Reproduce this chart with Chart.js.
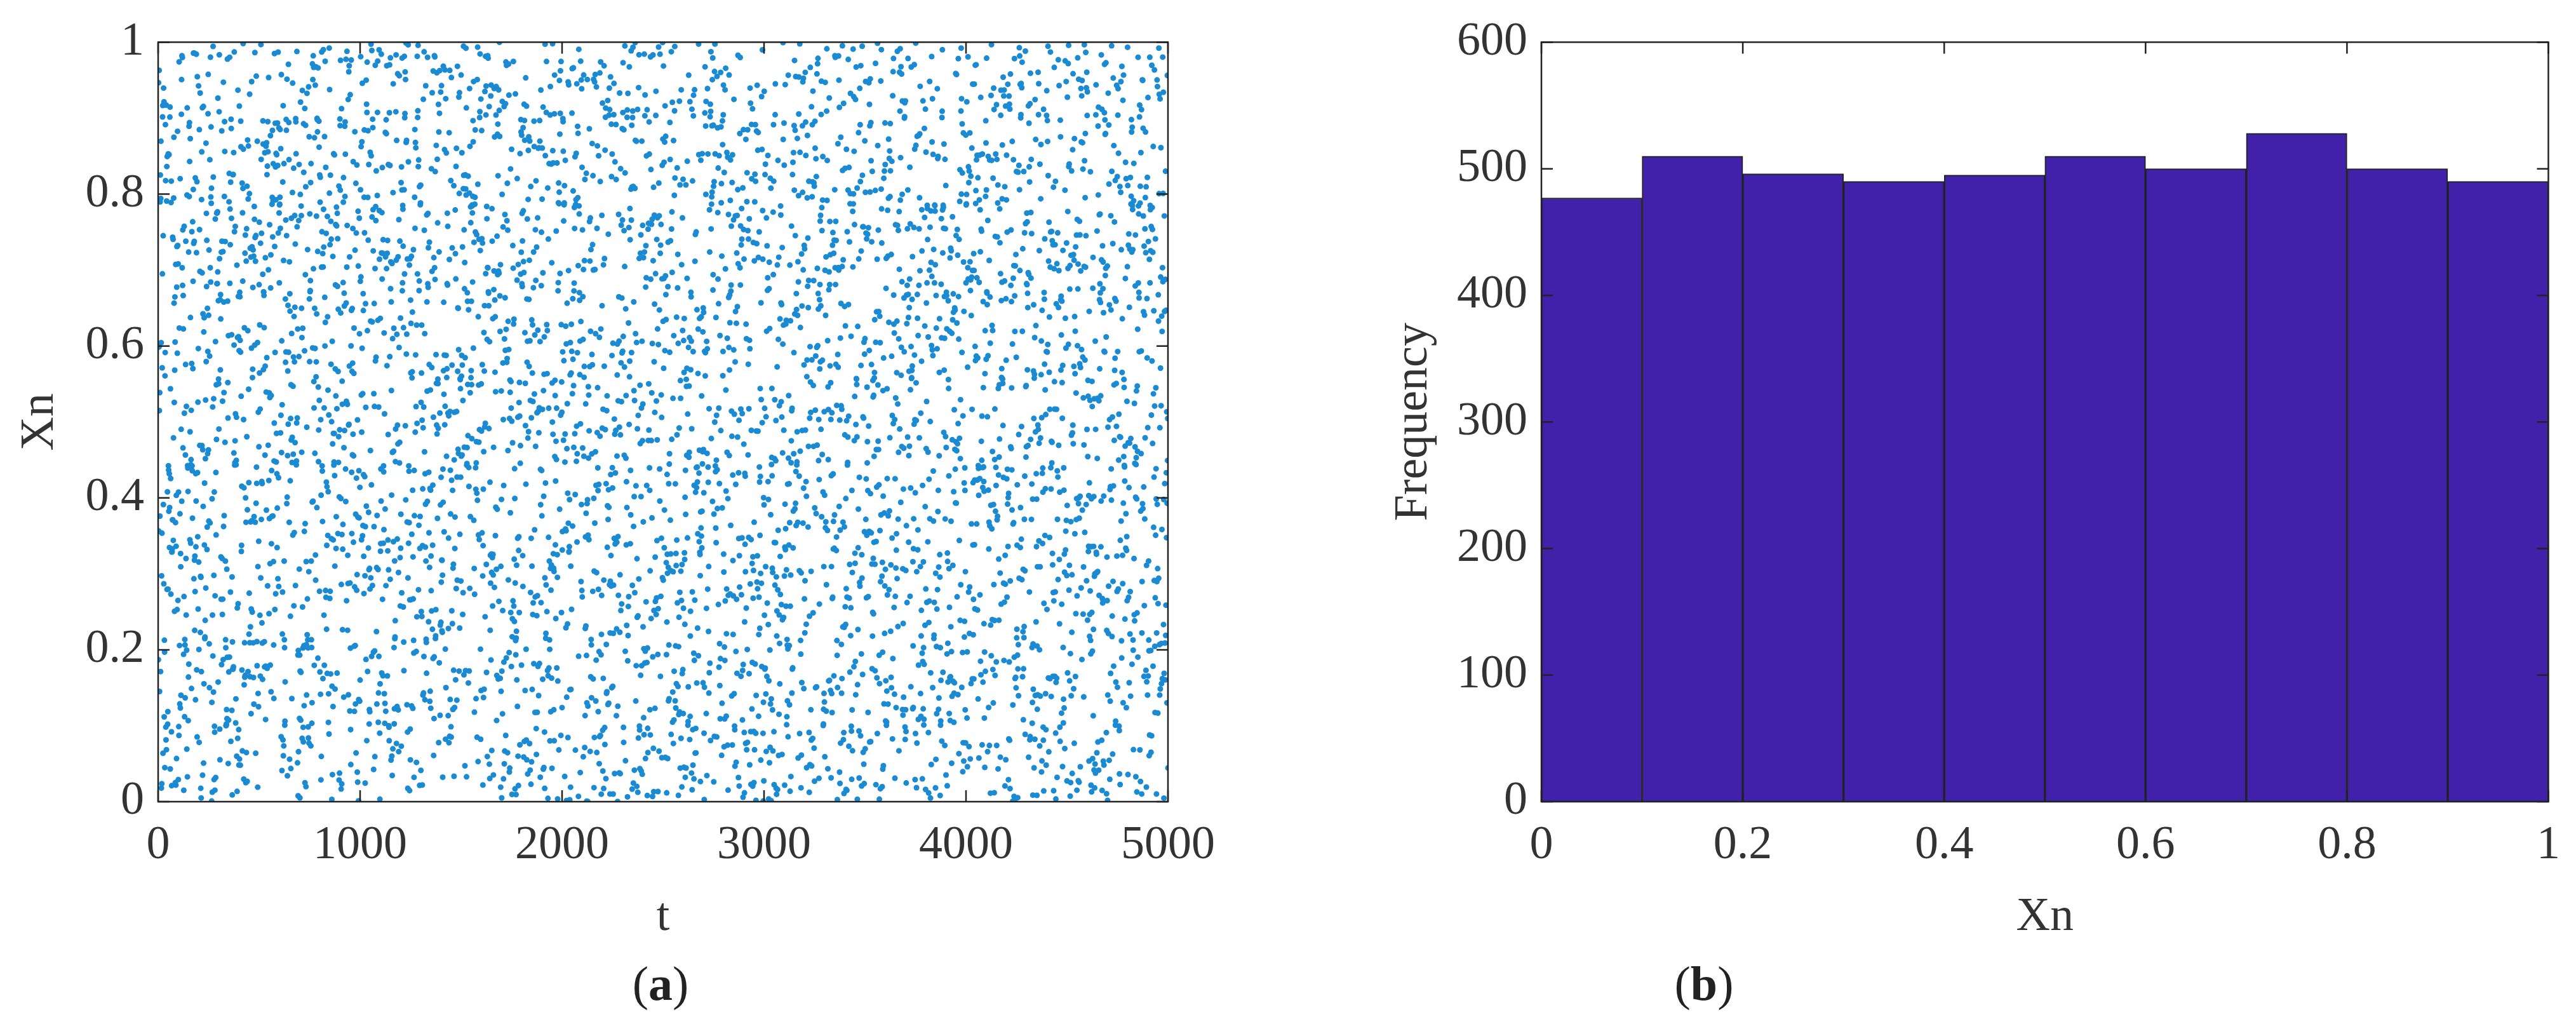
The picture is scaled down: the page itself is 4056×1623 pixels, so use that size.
<!DOCTYPE html>
<html><head><meta charset="utf-8">
<script src="https://cdn.jsdelivr.net/npm/chart.js@4/dist/chart.umd.min.js"></script>
<style>
body{margin:0;background:#fff;width:4056px;height:1623px;position:relative;overflow:hidden}
.c{position:absolute;top:0;width:2028px;height:1623px}
.lab{position:absolute;top:1505px;width:300px;text-align:center;font:76px "Liberation Serif",serif;color:#222}
</style></head><body>
<div class="c" style="left:0"><canvas id="a"></canvas></div>
<div class="c" style="left:2028px"><canvas id="b"></canvas></div>
<div class="lab" style="left:890px">(<b>a</b>)</div>
<div class="lab" style="left:2533px">(<b>b</b>)</div>
<script>
// Histogram (b): bin centres and counts
const binCenters = [0.05,0.15,0.25,0.35,0.45,0.55,0.65,0.75,0.85,0.95];
const binCounts  = [477,510,496,490,495,510,500,528,500,490];
const xTicksA = [0,1000,2000,3000,4000,5000];
const yTicksA = [0,0.2,0.4,0.6,0.8,1];
const xTicksB = [0,0.2,0.4,0.6,0.8,1];
const yTicksB = [0,100,200,300,400,500,600];
// Scatter (a): 5000 iterates of a chaotic sequence (individual points cannot be read off the picture)
const N = 5000;
const seqT = [], seqX = [];
let x0 = 0.3141;
for (let i = 1; i <= N; i++) { x0 = (x0 * 9.7531 + Math.sin(i) * 0.0001 + 0.1234) % 1; seqT.push(i); seqX.push(x0); }

const FONT = {family:'"Liberation Serif", serif', size:74};
Chart.defaults.color = '#333';
Chart.defaults.animation = false;

const boxPlugin = {
  id:'box',
  afterDraw(ch){
    const c = ch.ctx, a = ch.chartArea;
    c.save(); c.strokeStyle='#222'; c.lineWidth=2.5;
    c.strokeRect(a.left,a.top,a.right-a.left,a.bottom-a.top);
    const L=18;
    ch.scales.x.ticks.forEach(t=>{const p=ch.scales.x.getPixelForValue(t.value);
      c.beginPath();c.moveTo(p,a.bottom);c.lineTo(p,a.bottom-L);c.moveTo(p,a.top);c.lineTo(p,a.top+L);c.stroke();});
    ch.scales.y.ticks.forEach(t=>{const p=ch.scales.y.getPixelForValue(t.value);
      c.beginPath();c.moveTo(a.left,p);c.lineTo(a.left+L,p);c.moveTo(a.right,p);c.lineTo(a.right-L,p);c.stroke();});
    c.restore();
  }
};
function fixTicks(arr){return function(s){s.ticks = arr.map(v=>({value:v}));};}
function axis(min,max,ticks,title,w,h,isY,tpad,titlePad){
  const o = {type:'linear',min,max,offset:false,
    grid:{display:false,drawTicks:false,offset:false},border:{display:false},
    ticks:{font:FONT,color:'#333',padding:tpad,maxRotation:0,autoSkip:false,callback:v=>String(v)},
    afterBuildTicks:fixTicks(ticks),
    title:{display:true,text:title,font:FONT,color:'#333',padding:titlePad},
  };
  if(isY) o.afterFit = s=>{s.width=w;}; else o.afterFit = s=>{s.height=h;};
  return o;
}
new Chart(document.getElementById('a'),{
  type:'scatter',
  data:{datasets:[{data:seqT.map((t,i)=>({x:t,y:seqX[i]})),pointRadius:4.5,pointBorderWidth:0,backgroundColor:'#1a8ad2'}]},
  options:{responsive:true,maintainAspectRatio:false,
    layout:{padding:{top:65,right:189,bottom:130,left:15}},
    plugins:{legend:{display:false},tooltip:{enabled:false}},
    scales:{x:axis(0,5000,xTicksA,'t',0,231,false,25,{top:30}),
            y:axis(0,1,yTicksA,'Xn',234,0,true,22,{bottom:30})}},
  plugins:[boxPlugin]
});
new Chart(document.getElementById('b'),{
  type:'bar',
  data:{datasets:[{data:binCenters.map((c,i)=>({x:c,y:binCounts[i]})),backgroundColor:'#4121a9',borderColor:'#222',borderWidth:2,barPercentage:1,categoryPercentage:1}]},
  options:{responsive:true,maintainAspectRatio:false,
    layout:{padding:{top:65,right:36,bottom:130,left:150}},
    plugins:{legend:{display:false},tooltip:{enabled:false}},
    scales:{x:axis(0,1,xTicksB,'Xn',0,231,false,25,{top:30}),
            y:axis(0,600,yTicksB,'Frequency',249,0,true,22,{bottom:30})}},
  plugins:[boxPlugin]
});
</script></body></html>
